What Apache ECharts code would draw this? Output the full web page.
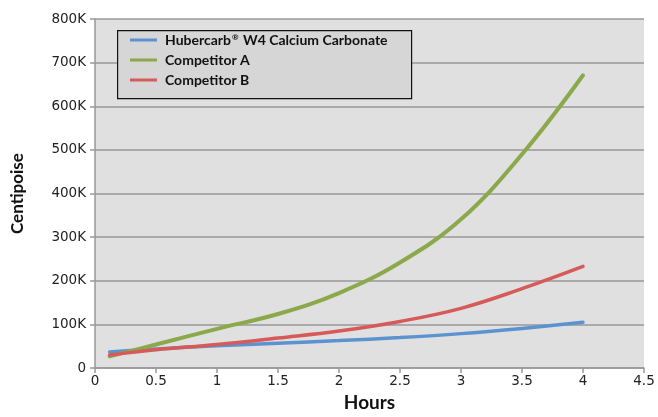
<!DOCTYPE html>
<html><head><meta charset="utf-8">
<script src="https://cdn.jsdelivr.net/npm/echarts@6/dist/echarts.min.js"></script>
<style>html,body{margin:0;padding:0;background:#fff}#c{width:658px;height:417px}</style>
</head><body><div id="c"></div>
<script>
var hours = [0.12, 0.5, 1, 1.5, 2, 2.5, 3, 3.5, 4];
var hubercarb = [37000, 44000, 51000, 57000, 63000, 70000, 79000, 91000, 105000];
var competitorA = [27000, 54000, 90000, 124000, 172000, 242000, 341000, 490000, 671000];
var competitorB = [30000, 42000, 54000, 69000, 85000, 107000, 137000, 182000, 233000];
var seriesNames = ['Hubercarb\u00AE W4 Calcium Carbonate', 'Competitor A', 'Competitor B'];
var colors = ['#5a93d0', '#8ba84a', '#d65a57'];

function pairs(v){ return hours.map(function(h,i){ return [h, v[i]]; }); }
var chart = echarts.init(document.getElementById('c'));
var tickFont = {fontFamily:'DejaVu Sans', fontSize:13.5, color:'#222'};
var lf = {fontFamily:'Lato', fontWeight:'bold', fontSize:14, color:'#111'};
chart.setOption({
  animation:false,
  backgroundColor:'#fff',
  grid:{left:95, right:14, top:19, bottom:44, backgroundColor:'#e0e0e0', show:true, borderWidth:0},
  graphic:[{type:'rect', left:117, top:30, z:3, shape:{width:294, height:68},
    style:{fill:'#d6d6d6', stroke:'#111', lineWidth:1.2}}],
  legend:{
    orient:'vertical', left:130, top:33, itemGap:6, z:5,
    padding:0,
    itemWidth:27, itemHeight:3, icon:'rect',
    formatter:function(n){
      var i = n.indexOf('\u00AE');
      if (i < 0) return '{a|' + n + '}';
      return '{a|' + n.slice(0,i) + '}{r|\u00AE}{a|' + n.slice(i+1) + '}';
    },
    textStyle:Object.assign({padding:[0,0,0,3], rich:{
      a:Object.assign({}, lf),
      r:{fontFamily:'Lato', fontSize:8, color:'#111', verticalAlign:'top', padding:[0,1,6,1]}
    }}, lf),
    data:seriesNames
  },
  xAxis:{type:'value', min:0, max:4.5, interval:0.5,
    name:'Hours', nameLocation:'middle', nameGap:23,
    nameTextStyle:{fontFamily:'Lato', fontWeight:'bold', fontSize:19, color:'#111'},
    axisLine:{show:true, lineStyle:{color:'#999', width:1.5}},
    axisTick:{show:true, length:5, lineStyle:{color:'#999', width:1.5}},
    axisLabel:Object.assign({margin:6}, tickFont),
    splitLine:{show:false}},
  yAxis:{type:'value', min:0, max:800000, interval:100000,
    name:'Centipoise', nameLocation:'middle', nameGap:69, nameRotate:90,
    nameTextStyle:{fontFamily:'Lato', fontWeight:'bold', fontSize:17, color:'#111'},
    axisLine:{show:true, lineStyle:{color:'#999', width:1.5}},
    axisTick:{show:true, length:5, lineStyle:{color:'#999', width:1.5}},
    axisLabel:Object.assign({margin:9, formatter:function(v){return v===0?'0':(v/1000)+'K';}}, tickFont),
    splitLine:{show:true, lineStyle:{color:'#999', width:1.5}}},
  series:[
    {name:seriesNames[0], type:'line', smooth:0.4, showSymbol:false, data:pairs(hubercarb), color:colors[0], lineStyle:{width:3.5, cap:'round'}},
    {name:seriesNames[1], type:'line', smooth:0.4, showSymbol:false, data:pairs(competitorA), color:colors[1], lineStyle:{width:4, cap:'round'}},
    {name:seriesNames[2], type:'line', smooth:0.4, showSymbol:false, data:pairs(competitorB), color:colors[2], lineStyle:{width:3.5, cap:'round'}}
  ]
});
</script></body></html>
